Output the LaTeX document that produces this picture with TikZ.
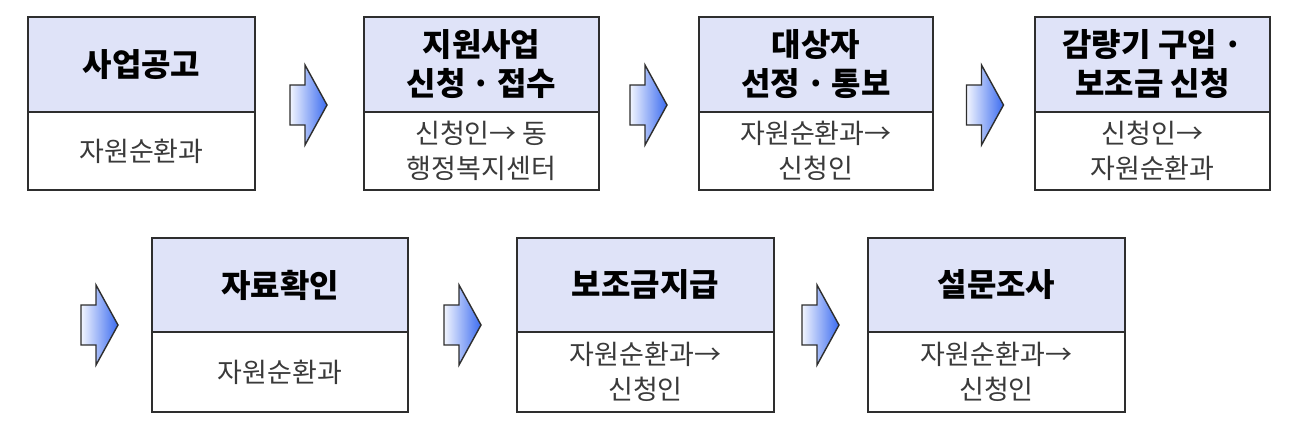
\documentclass[tikz,border=0pt]{standalone}
\usepackage{fontspec}
\newfontfamily\krfont{Noto Sans CJK KR}
\usetikzlibrary{positioning}
\definecolor{flowInk}{HTML}{2E2E2E}
\definecolor{flowHead}{HTML}{DFE3F8}
\definecolor{flowText}{HTML}{3A3A3A}
\definecolor{flowBlue}{HTML}{3C6CF0}
\definecolor{flowPale}{HTML}{F2F5FE}
\newcommand\middot{\hspace{6pt}·\hspace{6pt}}
\tikzset{
  every picture/.style={x=1pt, y=-1pt},
  flow head/.style={draw=flowInk, line width=2pt, fill=flowHead, outer sep=0pt,
    align=center, minimum height=95pt, inner sep=0pt,
    font=\krfont\bfseries\fontsize{32}{39}\selectfont, text=black},
  flow body/.style={draw=flowInk, line width=2pt, fill=white, outer sep=0pt,
    align=center, minimum height=78pt, inner sep=0pt,
    font=\krfont\fontsize{27}{35}\selectfont, text=flowText},
  flow arrow/.style={draw=flowInk, line width=1.4pt, line join=miter,
    left color=flowPale, right color=flowBlue},
  pics/step arrow/.style={code={
    \shade[flow arrow] (-18.5,-20) -- (-3.5,-20) -- (-3.5,-40) -- (18.5,0)
      -- (-3.5,40) -- (-3.5,20) -- (-18.5,20) -- cycle;}}
}
\begin{document}
\begin{tikzpicture}
  \useasboundingbox (0,0) rectangle (1293,445);
  % first row
  \node[flow head, minimum width=227pt] (head1) at (141.5,64.5) {사업공고};
  \node[flow body, minimum width=227pt, below=0pt of head1] (body1) {자원순환과};
  \node[flow head, minimum width=235pt] (head2) at (481.5,64.5) {지원사업\\신청\middot 접수};
  \node[flow body, minimum width=235pt, below=0pt of head2] (body2) {신청인→ 동\\행정복지센터};
  \node[flow head, minimum width=234pt] (head3) at (816,64.5) {대상자\\선정\middot 통보};
  \node[flow body, minimum width=234pt, below=0pt of head3] (body3) {자원순환과→\\신청인};
  \node[flow head, minimum width=235pt] (head4) at (1152.5,64.5) {감량기 구입\middot\\보조금 신청};
  \node[flow body, minimum width=235pt, below=0pt of head4] (body4) {신청인→\\자원순환과};
  % second row
  \node[flow head, minimum width=256pt, minimum height=94pt] (head5) at (280,285) {자료확인};
  \node[flow body, minimum width=256pt, minimum height=80pt, below=0pt of head5] (body5) {자원순환과};
  \node[flow head, minimum width=257pt, minimum height=94pt] (head6) at (645.5,285) {보조금지급};
  \node[flow body, minimum width=257pt, minimum height=80pt, below=0pt of head6] (body6) {자원순환과→\\신청인};
  \node[flow head, minimum width=257pt, minimum height=94pt] (head7) at (996.5,285) {설문조사};
  \node[flow body, minimum width=257pt, minimum height=80pt, below=0pt of head7] (body7) {자원순환과→\\신청인};
  % step arrows
  \pic (arrow1) at (308.5,105) {step arrow};
  \pic (arrow2) at (648.5,105) {step arrow};
  \pic (arrow3) at (985,105) {step arrow};
  \pic (arrow4) at (99.5,325) {step arrow};
  \pic (arrow5) at (462.5,325) {step arrow};
  \pic (arrow6) at (820.5,325) {step arrow};
\end{tikzpicture}
\end{document}
